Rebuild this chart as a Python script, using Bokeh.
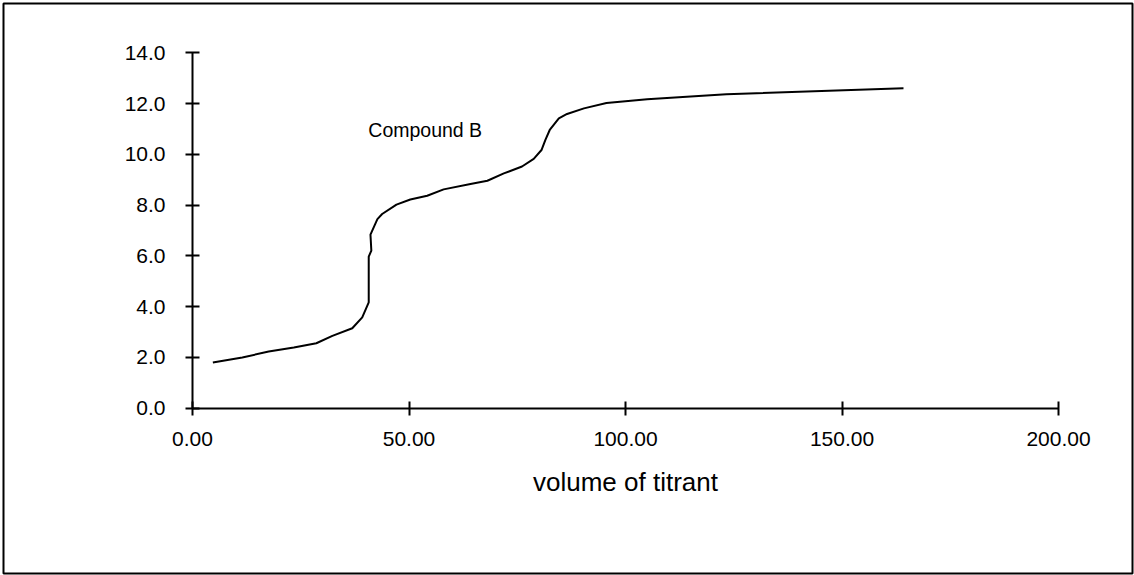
from bokeh.plotting import figure
from bokeh.models import Range1d, FixedTicker, NumeralTickFormatter, Label
from bokeh.embed import file_html
from bokeh.resources import INLINE

# Titration curve, Compound B
volume = [4.7, 11.5, 17.6, 23.4, 28.6, 32.3, 36.9, 39.2, 40.7, 40.7, 41.3, 41.1,
          42.7, 43.8, 47.1, 50.3, 54.2, 58.0, 64.2, 68.1, 71.9, 76.1, 78.8, 80.6,
          81.5, 82.5, 84.6, 86.5, 90.4, 95.6, 105.0, 123.3, 164.2]
ph = [1.80, 2.00, 2.23, 2.39, 2.56, 2.85, 3.15, 3.58, 4.17, 5.97, 6.21, 6.84,
      7.45, 7.65, 8.02, 8.22, 8.37, 8.62, 8.83, 8.96, 9.25, 9.52, 9.82, 10.17,
      10.57, 10.96, 11.42, 11.59, 11.81, 12.02, 12.17, 12.37, 12.60]

x_ticks = [0, 50, 100, 150, 200]
y_ticks = [0, 2, 4, 6, 8, 10, 12, 14]
x_title = "volume of titrant"
series_label = "Compound B"

FONT = "Liberation Sans"

p = figure(width=1134, height=575, output_backend="svg", toolbar_location=None,
           x_range=Range1d(-43.65, 217.09), y_range=Range1d(-6.511, 15.942),
           min_border_left=3, min_border_top=3, min_border_right=2,
           min_border_bottom=2)
p.grid.visible = False
p.outline_line_color = "black"
p.outline_line_width = 2
p.background_fill_color = "white"
p.border_fill_color = "white"

p.line(volume, ph, line_color="black", line_width=2)

for ax in (p.xaxis[0], p.yaxis[0]):
    ax.fixed_location = 0
    ax.axis_line_width = 2
    ax.major_tick_line_width = 2
    ax.major_tick_in = 7
    ax.major_tick_out = 7
    ax.minor_tick_line_color = None
    ax.major_label_text_font = FONT
    ax.major_label_text_font_size = "21px"
    ax.major_label_text_color = "black"
    ax.axis_label_text_font = FONT
    ax.axis_label_text_font_style = "normal"
    ax.axis_label_text_color = "black"

p.xaxis[0].bounds = (0, 200)
p.xaxis[0].ticker = FixedTicker(ticks=x_ticks)
p.xaxis[0].formatter = NumeralTickFormatter(format="0.00")
p.xaxis[0].major_label_standoff = 17
p.xaxis[0].axis_label = x_title
p.xaxis[0].axis_label_text_font_size = "26px"
p.xaxis[0].axis_label_standoff = 17

p.yaxis[0].bounds = (0, 14)
p.yaxis[0].ticker = FixedTicker(ticks=y_ticks)
p.yaxis[0].formatter = NumeralTickFormatter(format="0.0")
p.yaxis[0].major_label_standoff = 20

p.add_layout(Label(x=40.6, y=10.94, text=series_label, text_font=FONT,
                   text_font_size="19.5px", text_color="black",
                   text_baseline="alphabetic"))

open("out.html", "w").write(file_html(p, INLINE))
